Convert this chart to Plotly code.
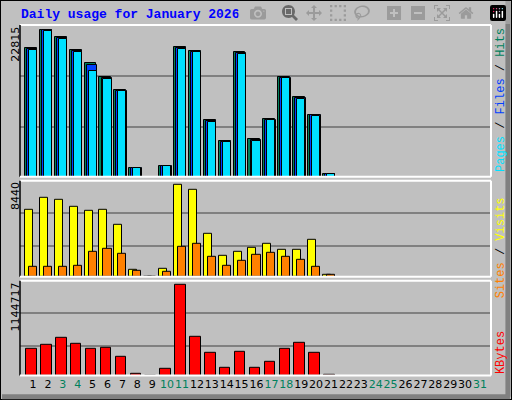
import plotly.graph_objects as go
from plotly.subplots import make_subplots

days = list(range(1, 22))
hits = [20015, 22815, 21726, 19704, 17683, 15505, 13484, 1353, 0, 1711, 20171,
        19549, 8818, 5552, 19393, 5863, 9020, 15505, 12395, 9642, 420]
files = [19860, 22750, 21570, 19549, 17372, 15350, 13400, 1353, 0, 1711, 20015,
         19470, 8660, 5470, 19240, 5700, 8900, 15420, 12240, 9540, 420]
pages = [19704, 22660, 21415, 19393, 16438, 15194, 13328, 1353, 0, 1711, 19860,
         19393, 8507, 5397, 19082, 5552, 8818, 15350, 12084, 9440, 420]
visits = [6154, 7251, 7068, 6428, 6062, 6154, 4782, 668, 0, 759, 8440,
          7983, 3959, 1948, 2313, 2679, 3045, 2496, 2496, 3411, 210]
sites = [942, 942, 942, 1033, 2313, 2588, 2131, 576, 0, 485, 2771,
         3045, 1856, 1033, 1490, 2039, 2222, 1856, 1582, 942, 210]
kbytes = [342290, 392440, 480200, 404980, 342290, 354830, 241980, 28840, 0, 91530, 1144717,
          492740, 292140, 104070, 304670, 104070, 179290, 342290, 417520, 292140, 16300]
tick_days = list(range(1, 32))
weekend = [3, 4, 10, 11, 17, 18, 24, 25, 31]

C_HITS, C_FILES, C_PAGES = "#00805c", "#0040ff", "#00e0ff"
C_VISITS, C_SITES, C_KB = "#ffff00", "#ff8000", "#ff0000"
BG = "#c0c0c0"

fig = make_subplots(rows=3, cols=1)
line = dict(color="black", width=1)


def bar(y, color, offset, width, row):
    fig.add_trace(go.Bar(x=days, y=y, marker=dict(color=color, line=line),
                         offset=offset, width=width, showlegend=False), row=row, col=1)


bar(hits, C_HITS, -0.54, 0.8, 1)
bar(files, C_FILES, -0.4, 0.7, 1)
bar(pages, C_PAGES, -0.27, 0.54, 1)
bar(visits, C_VISITS, -0.54, 0.54, 2)
bar(sites, C_SITES, -0.27, 0.54, 2)
bar(kbytes, C_KB, -0.45, 0.7, 3)

xr = [0.128, 31.74]
doms = [[0.558, 0.9375], [0.308, 0.548], [0.061, 0.298]]
tops = [23592, 8778, 1191100]
grids = [[7729, 15661], [2780, 5797], [368620, 782370]]
for i in range(3):
    xa = "xaxis" if i == 0 else "xaxis%d" % (i + 1)
    ya = "yaxis" if i == 0 else "yaxis%d" % (i + 1)
    fig.layout[xa].update(domain=[20 / 512, 491 / 512], range=xr, showgrid=False,
                          zeroline=False, showticklabels=False, ticks="")
    fig.layout[ya].update(domain=doms[i], range=[0, tops[i]], tickvals=grids[i],
                          showticklabels=False, gridcolor="#808080", gridwidth=1.5,
                          zeroline=False, ticks="")
    # panel frame: black left, white top/right/bottom
    y0, y1 = doms[i]
    fig.add_shape(type="line", xref="paper", yref="paper", x0=20 / 512, x1=491 / 512,
                  y0=y1, y1=y1, line=dict(color="white", width=2))
    fig.add_shape(type="line", xref="paper", yref="paper", x0=491 / 512, x1=491 / 512,
                  y0=y0, y1=y1, line=dict(color="white", width=2))
    fig.add_shape(type="line", xref="paper", yref="paper", x0=20 / 512, x1=20 / 512,
                  y0=y0, y1=y1, line=dict(color="black", width=1.5))
    fig.add_shape(type="line", xref="paper", yref="paper", x0=20 / 512, x1=491 / 512,
                  y0=y0, y1=y0, line=dict(color="white", width=2))

fig.layout.xaxis3.update(showticklabels=True, tickvals=tick_days, tickangle=0,
                         ticktext=["<span style='color:%s'>%d</span>" % (C_HITS if d in weekend else "black", d)
                                   for d in tick_days],
                         tickfont=dict(family="DejaVu Sans", size=11))

fig.add_shape(type="rect", xref="paper", yref="paper", x0=0, x1=1, y0=0, y1=1,
              line=dict(color="black", width=2))
fig.add_shape(type="line", xref="paper", yref="paper", x0=0.004, x1=0.996, y0=0.008, y1=0.008,
              line=dict(color="#808080", width=5))
fig.add_shape(type="line", xref="paper", yref="paper", x0=0.992, x1=0.992, y0=0.008, y1=0.996,
              line=dict(color="#808080", width=5))

mono = "Liberation Mono"
ann = [
    dict(x=20 / 512, y=1 - 6 / 400, xanchor="left", yanchor="top",
         text="<b>Daily usage for January 2026</b>", font=dict(family=mono, size=13, color="#0000ff")),
    dict(x=8 / 512, y=doms[0][1] - 0.002, xanchor="left", yanchor="top", textangle=-90,
         text="22815", font=dict(family="DejaVu Sans", size=11, color="black")),
    dict(x=8 / 512, y=doms[1][1] - 0.002, xanchor="left", yanchor="top", textangle=-90,
         text="8440", font=dict(family="DejaVu Sans", size=11, color="black")),
    dict(x=8 / 512, y=doms[2][1] - 0.002, xanchor="left", yanchor="top", textangle=-90,
         text="1144717", font=dict(family="DejaVu Sans", size=11, color="black")),
    dict(x=493 / 512, y=doms[0][1] - 0.005, xanchor="left", yanchor="top", textangle=-90,
         text="<span style='color:%s'>Pages</span> / <span style='color:%s'>Files</span> / "
              "<span style='color:%s'>Hits</span>" % (C_PAGES, C_FILES, C_HITS),
         font=dict(family=mono, size=12, color="black")),
    dict(x=493 / 512, y=doms[1][1] - 0.04, xanchor="left", yanchor="top", textangle=-90,
         text="<span style='color:%s'>Sites</span> / <span style='color:%s'>Visits</span>" % (C_SITES, C_VISITS),
         font=dict(family=mono, size=12, color="black")),
    dict(x=493 / 512, y=doms[2][0], xanchor="left", yanchor="bottom", textangle=-90,
         text="KBytes", font=dict(family=mono, size=12, color=C_KB)),
]
for a in ann:
    fig.add_annotation(xref="paper", yref="paper", showarrow=False, borderpad=0, **a)

fig.update_layout(width=512, height=400, margin=dict(l=0, r=0, t=0, b=0),
                  paper_bgcolor=BG, plot_bgcolor=BG, barmode="overlay", bargap=0)

fig.write_html("out.html", post_script="document.body.style.margin='0';")
